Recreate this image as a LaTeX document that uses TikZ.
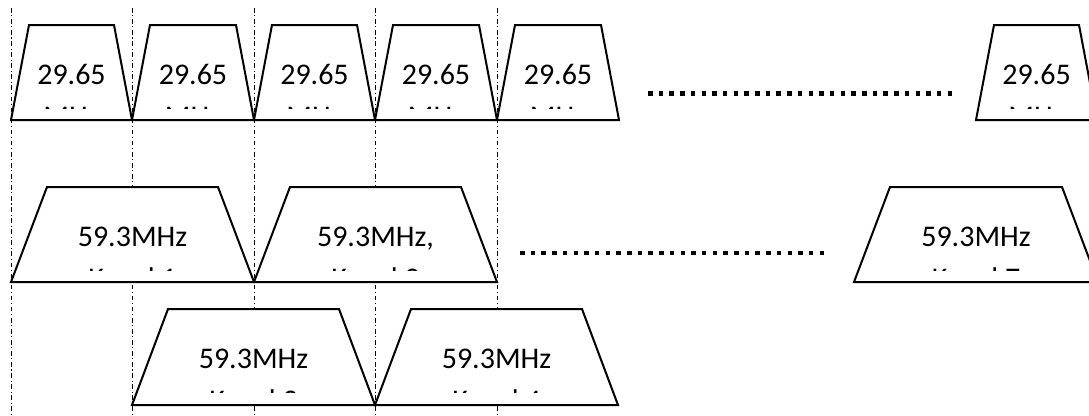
\documentclass[tikz,border=0pt]{standalone}
\usepackage{fontspec}
\setmainfont{Carlito}
\begin{document}
\begin{tikzpicture}[x=0.75pt,y=-0.75pt,
  trapbox/.style={draw=black,fill=white,line width=1.5pt,line join=miter},
  lbl/.style={anchor=base,inner sep=0pt,text=black,font=\fontsize{22.5}{27}\selectfont},
  guide/.style={draw=black,line width=0.75pt,dash pattern=on 3.5pt off 2pt on 0.8pt off 2pt},
  dotsq/.style={draw=black,line width=3.4pt,dash pattern=on 3.375pt off 4.65pt}]
\useasboundingbox (0,0) rectangle (1089,415);
\clip (0,0) rectangle (1089,415);
\newcommand{\trapfig}[8]{%
  \draw[trapbox] (#2,#5) -- (#2+#6,#4) -- (#3-#6,#4) -- (#3,#5) -- cycle;
  \node[lbl] (#1) at ({(#2+#3)/2},#4+59) {#7};
  \begin{scope}
    \clip (#2,#4) rectangle (#3,#4+83.5);
    \node[lbl] (#1b) at ({(#2+#3)/2},#4+101.5) {#8};
  \end{scope}}
% guide lines
\foreach \gx/\gn in {11/g1,132/g2,254/g3,375/g4,497/g5}{
  \coordinate (\gn top) at (\gx,8);
  \coordinate (\gn bot) at (\gx,415);
  \draw[guide] (\gn top) -- (\gn bot);
}
% row 1
\trapfig{a1}{11}{132}{25}{120}{18}{29.65}{MHz}
\trapfig{a2}{132}{254}{25}{120}{18}{29.65}{MHz}
\trapfig{a3}{254}{375}{25}{120}{18}{29.65}{MHz}
\trapfig{a4}{375}{497}{25}{120}{18}{29.65}{MHz}
\trapfig{a5}{497}{619}{25}{120}{18}{29.65}{MHz}
\trapfig{a6}{976}{1097}{25}{120}{18}{29.65}{MHz}
% row 2
\trapfig{b1}{11}{254}{187}{282}{36}{59.3MHz}{Kanal 1}
\trapfig{b2}{254}{497}{187}{282}{36}{59.3MHz,}{Kanal 2}
\trapfig{b7}{854}{1098}{187}{282}{36}{59.3MHz}{Kanal 7}
% row 3
\trapfig{c3}{132}{375}{309}{405}{36}{59.3MHz}{Kanal 3}
\trapfig{c4}{375}{618}{309}{405}{36}{59.3MHz}{Kanal 4}
% dotted lines
\coordinate (d1s) at (648,93.7);
\coordinate (d1e) at (952,93.7);
\coordinate (d2s) at (520,253);
\coordinate (d2e) at (824,253);
\draw[dotsq] (d1s) -- (d1e);
\draw[dotsq] (d2s) -- (d2e);
\end{tikzpicture}
\end{document}
